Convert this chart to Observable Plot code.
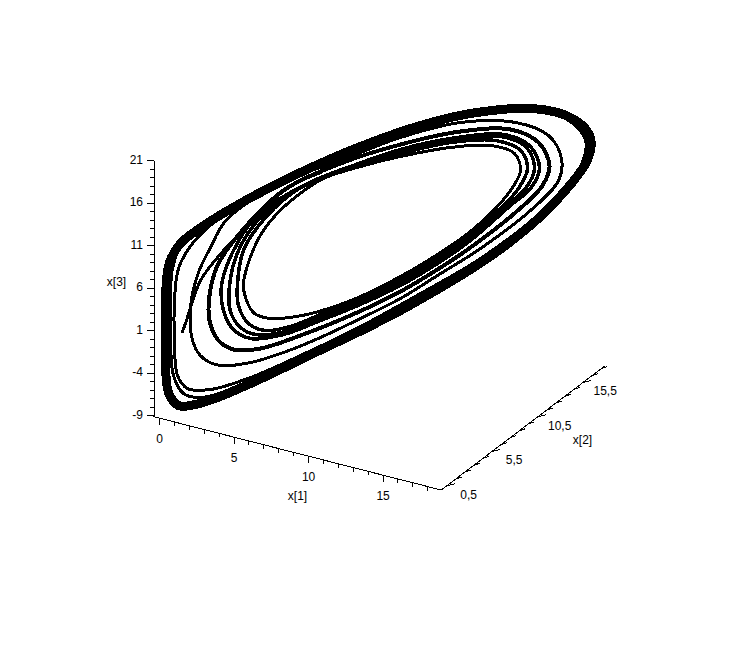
<!DOCTYPE html>
<html><head><meta charset="utf-8">
<script src="https://cdn.jsdelivr.net/npm/d3@7"></script>
<script src="https://cdn.jsdelivr.net/npm/@observablehq/plot@0.6"></script>
<style>html,body{margin:0;padding:0;background:#fff}</style>
</head><body><div id="c"></div>
<script>
// Axis values
const x1Major=[0,5,10,15], x1Minor=[1,2,3,4,6,7,8,9,11,12,13,14,16,17,18];
const x2Major=[0.5,5.5,10.5,15.5], x2Minor=[1.5,2.5,3.5,4.5,6.5,7.5,8.5,9.5,11.5,12.5,13.5,14.5,16.5,17.5];
const x3Major=[21,16,11,6,1,-4,-9], x3Minor=[20,19,18,17,15,14,13,12,10,9,8,7,5,4,3,2,0,-1,-2,-3,-5,-6,-7,-8];
const x1Range=[-0.4,18.9], x2Range=[-0.1,17.9], x3Range=[-9,21];
// Trajectory, in projected view units: [across, down]
const start=[[182,331],[186,320],[190,307],[200,280],[217,257],[240,232],[267,208],[283,190],[320,172]];
const orbitA=[[243,283],[246,300],[254,313],[270,318],[296,316],[320,310.5],[353,299],[400,276],[437,254],[470,231],[495,208],[512,187],[520,170],[514,153],[490,145],[450,147],[400,156],[360,166],[323,178],[297,195],[273,217],[257,240]];
const orbitB=[[237,283],[238,305],[248,323],[264,330],[290,326],[320,314],[355,300],[400,279],[437,257],[470,234],[500,208],[518,188],[527,168],[520,150],[495,140],[450,142],[400,153],[350,166],[300,187],[265,217],[243,250]];
const orbitC=[[229,285],[230,311],[240,327],[255,334],[285,331],[320,317],[355,303],[400,282],[437,260],[470,237],[505,206],[525,188],[534,168],[526,147],[500,136],[450,140],[400,151],[345,168],[295,190],[260,217],[238,250]];
const orbitD=[[221,285],[223,310],[232,328],[250,338],[283,334],[320,320],[355,306],[400,285],[437,263],[470,240],[510,205],[530,188],[539,168],[530,146],[503,134],[450,138],[400,149],[340,170],[290,192],[255,217],[233,250]];
const orbitE=[[209,295],[209,320],[218,340],[233,349],[260,348],[300,335],[350,315],[400,291],[437,269],[470,247],[515,212],[542,185],[549,165],[538,142],[510,129],[460,131],[400,144],[340,163],[283,190],[240,232],[217,265]];
const orbitF=[[190,307],[193,343],[203,358],[220,365],[250,362],[283,352],[320,337],[360,318],[400,298],[437,275],[480,248],[530,210],[558,180],[561,158],[548,135],[515,122],[460,122],[400,137],[340,160],[290,178],[243,205],[223,223],[210,247],[198,272]];
const orbitG=[[174,300],[174,340],[177,375],[187,388],[210,389],[250,377],[300,355],[360,326],[420,293],[480,258],[540,212],[578,170],[585,140],[565,118],[520,110],[460,116],[400,131],[330,160],[270,190],[220,217],[192,243],[178,268]];
const orbitH=[[170,300],[170,340],[173,375],[183,393],[200,397],[250,382],[300,359],[360,330],[420,297],[480,261],[540,214],[580,172],[587,140],[567,116],[520,107],[460,114],[400,129],[330,157],[270,186],[215,214],[183,240],[172,268]];
const orbitOuter=[[165,330],[165,295],[169,262],[180,243],[205,224],[245,200],[300,172],[360,146],[420,125],[470,113],[530,108],[563,114],[583,126],[590,138],[590,150],[584,165],[565,190],[540,216],[505,245],[470,269],[437,289],[400,310],[360,330.5],[320,349.5],[285,366.5],[250,383],[217,397],[195,404],[178,405],[168,392],[165,360]];

const project=(a,b,c)=>[160+14.9*a+9.1*b, 340.5+3.8*a-6.9*b-8.5*c];
const ink="#000";
const P1=(a)=>project(a,x2Range[0],-9), P2=(b)=>project(x1Range[1],b,-9), P3=(c)=>[153.5,project(x1Range[0],x2Range[0],c)[1]-1];
const tick=(vals,fn,dx,dy)=>vals.map(v=>{const p=fn(v);return {x1:p[0],y1:p[1],x2:p[0]+dx,y2:p[1]+dy};});
const link=(rows)=>Plot.link(rows,{x1:"x1",y1:"y1",x2:"x2",y2:"y2",stroke:ink,strokeWidth:1,shapeRendering:"crispEdges"});
const orbit=(pts,w)=>Plot.line(pts,{x:d=>d[0],y:d=>d[1],curve:"catmull-rom-closed",stroke:ink,strokeWidth:w,shapeRendering:"crispEdges"});
const label=(rows,anchor)=>Plot.text(rows,{x:"x",y:"y",text:"t",textAnchor:anchor,fill:ink,fontSize:12,fontFamily:"Liberation Sans"});
const fmt=v=>String(v).replace(".",",");

const chart=Plot.plot({
  width:732,height:658,margin:0,
  x:{domain:[0,732],range:[0,732],axis:null},
  y:{domain:[0,658],range:[0,658],axis:null},
  style:{background:"#fff"},
  marks:[
    orbit(orbitA,3),orbit(orbitB,3.5),orbit(orbitC,3.5),orbit(orbitD,3.5),orbit(orbitE,4),orbit(orbitF,3),orbit(orbitG,3),orbit(orbitH,3),orbit(orbitOuter,9),
    Plot.line(start,{x:d=>d[0],y:d=>d[1],curve:"catmull-rom",stroke:ink,strokeWidth:3,shapeRendering:"crispEdges"}),
    Plot.line(x1Range.map(P1),{x:d=>d[0],y:d=>d[1],stroke:ink,shapeRendering:"crispEdges",strokeWidth:1}),
    Plot.line(x2Range.map(P2),{x:d=>d[0],y:d=>d[1],stroke:ink,shapeRendering:"crispEdges",strokeWidth:1}),
    Plot.line(x3Range.map(P3),{x:d=>d[0],y:d=>d[1],stroke:ink,shapeRendering:"crispEdges",strokeWidth:1}),
    link(tick(x1Major,P1,0,7)),link(tick(x1Minor,P1,0,4)),
    link(tick(x2Major,P2,8,-2)),link(tick(x2Minor,P2,6,-2)),
    link(tick(x3Major,P3,-7,0)),link(tick(x3Minor,P3,-4,0)),
    label(x1Major.map(v=>{const p=P1(v);return {x:p[0],y:p[1]+20.5,t:fmt(v)};}),"middle"),
    label(x2Major.map(v=>{const p=P2(v);return {x:p[0]+22,y:p[1]+9,t:fmt(v)};}),"middle"),
    label(x3Major.map(v=>{const p=P3(v);return {x:p[0]-11,y:p[1]-1,t:fmt(v)};}),"end"),
    label([{x:297,y:496,t:"x[1]"},{x:582,y:440,t:"x[2]"},{x:116,y:282,t:"x[3]"}],"middle")
  ]
});
document.getElementById("c").appendChild(chart);
</script></body></html>
